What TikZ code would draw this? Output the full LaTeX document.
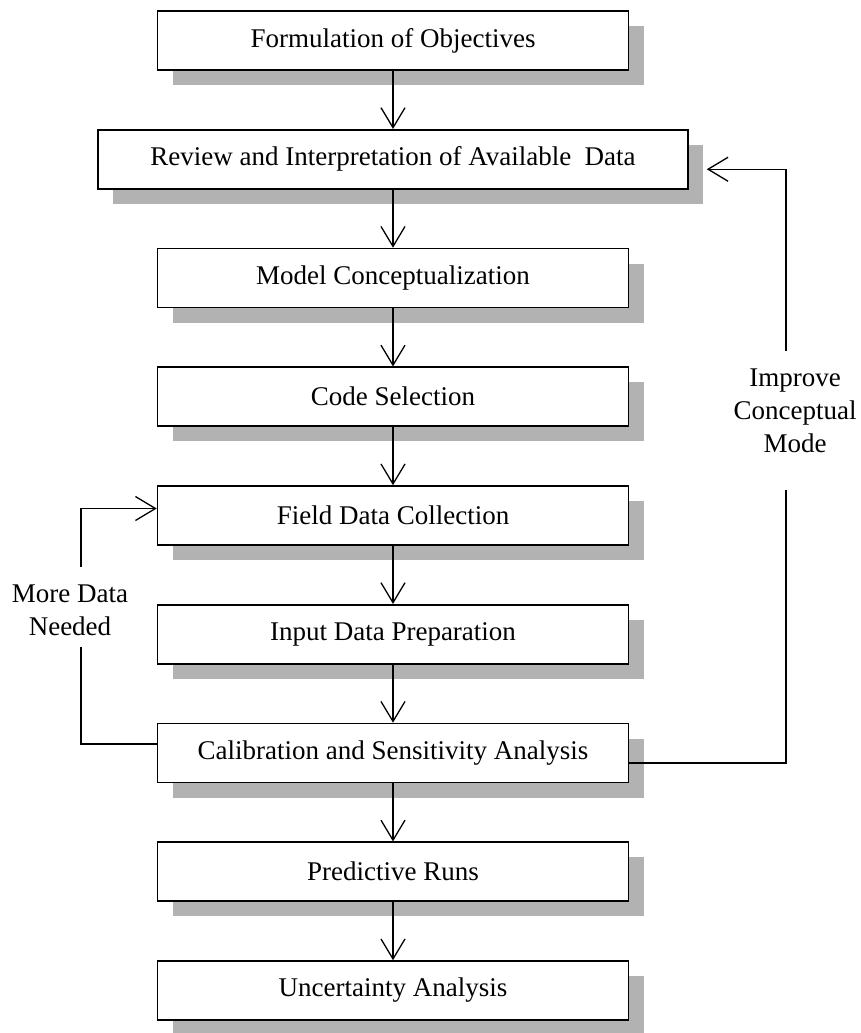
\documentclass[tikz,border=0pt]{standalone}
\usepackage{fontspec}
\setmainfont{Liberation Serif}
\usetikzlibrary{arrows.meta,calc,shadows}
\begin{document}
\begin{tikzpicture}[x=1pt,y=-1pt,
  box/.style={draw=black,line width=1.6pt,fill=white,minimum height=59pt,inner sep=0pt,
    font=\fontsize{27}{33}\selectfont,
    general shadow={shadow xshift=15pt,shadow yshift=-15pt,fill=black!30,draw=none}},
  narrow/.style={box,minimum width=471pt},
  wide/.style={box,minimum width=590pt},
  conn/.style={line width=1.3pt,-{Straight Barb[length=20pt,width=24pt,line width=1.3pt]}},
  plainline/.style={line width=1.3pt},
  lbl/.style={font=\fontsize{27}{33}\selectfont,align=center,inner sep=0pt}]
\useasboundingbox (0,0) rectangle (861,1033);

\node[narrow] (b1) at (393,40.5) {Formulation of Objectives};
\node[wide]   (b2) at (393,159.25) {Review and Interpretation of Available\ \ Data};
\node[narrow] (b3) at (393,278) {Model Conceptualization};
\node[narrow] (b4) at (393,396.75) {Code Selection};
\node[narrow] (b5) at (393,515.5) {Field Data Collection};
\node[narrow] (b6) at (393,634.25) {Input Data Preparation};
\node[narrow] (b7) at (393,753) {Calibration and Sensitivity Analysis};
\node[narrow] (b8) at (393,871.75) {Predictive Runs};
\node[narrow] (b9) at (393,990.5) {Uncertainty Analysis};

\draw[conn] (b1.south) -- (b2.north);
\draw[conn] (b2.south) -- (b3.north);
\draw[conn] (b3.south) -- (b4.north);
\draw[conn] (b4.south) -- (b5.north);
\draw[conn] (b5.south) -- (b6.north);
\draw[conn] (b6.south) -- (b7.north);
\draw[conn] (b7.south) -- (b8.north);
\draw[conn] (b8.south) -- (b9.north);

% More data needed loop
\node[lbl] (more) at (70,610) {More Data\\Needed};
\coordinate (lBot) at (81,647);
\coordinate (lTop) at (81,567);
\draw[plainline] ([yshift=9pt]b7.west) -| (lBot);
\draw[conn] (lTop) |- ([yshift=7pt]b5.west);

% Improve conceptual model loop
\node[lbl] (impr) at (795,411) {Improve\\Conceptual\\Mode};
\coordinate (rBot) at (786,490);
\coordinate (rTop) at (786,351);
\coordinate (rTip) at ($(b2.east)+(18,10)$);
\draw[plainline] ([yshift=-10pt]b7.east) -| (rBot);
\draw[conn] (rTop) |- (rTip);
\end{tikzpicture}
\end{document}
